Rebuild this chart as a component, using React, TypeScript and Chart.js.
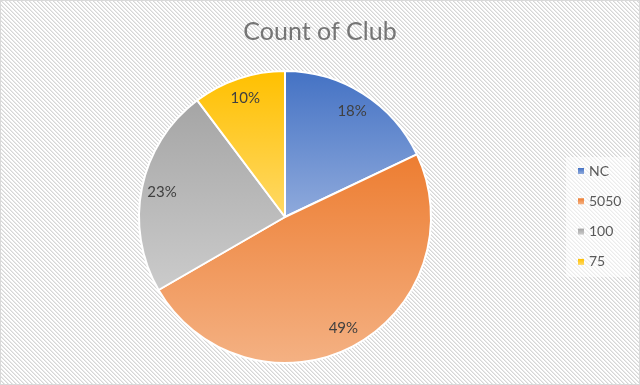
import React, { useEffect, useRef } from "react";
import { Chart, registerables } from "chart.js";

Chart.register(...registerables);

const categories = ["NC", "5050", "100", "75"];
const counts = [7, 19, 9, 4];
const topColors = ["#4472C4", "#ED7D31", "#A5A5A5", "#FFC000"];
const bottomColors = ["#8FAADC", "#F4B183", "#CBCBCB", "#FFD966"];
const titleText = "Count of Club";

const FONT = "Lato, 'Open Sans', sans-serif";

function sliceGradient(ctx: any) {
  const i = ctx.dataIndex;
  const chart = ctx.chart;
  const area = chart.chartArea;
  if (i === undefined) return topColors[0];
  if (!area) return topColors[i];
  const cx = (area.left + area.right) / 2;
  const cy = (area.top + area.bottom) / 2;
  const r = (Math.min(area.width, area.height) - 2) / 2;
  const total = counts.reduce((a, b) => a + b, 0);
  let start = -Math.PI / 2;
  for (let j = 0; j < i; j++) start += (counts[j] / total) * Math.PI * 2;
  const end = start + (counts[i] / total) * Math.PI * 2;
  const ys = [cy, cy + r * Math.sin(start), cy + r * Math.sin(end)];
  [-Math.PI / 2, Math.PI / 2, (3 * Math.PI) / 2, (5 * Math.PI) / 2].forEach((c) => {
    if (c >= start && c <= end) ys.push(cy + r * Math.sin(c));
  });
  const y0 = Math.min(...ys);
  const y1 = Math.max(...ys);
  const g = chart.ctx.createLinearGradient(0, y0, 0, y1);
  g.addColorStop(0, topColors[i]);
  g.addColorStop(1, bottomColors[i]);
  return g;
}

const backgroundPlugin = {
  id: "hatchBg",
  beforeDraw(chart: any) {
    const { ctx, width, height } = chart;
    const pc = document.createElement("canvas");
    pc.width = 4;
    pc.height = 4;
    const p = pc.getContext("2d")!;
    p.fillStyle = "#FFFFFF";
    p.fillRect(0, 0, 4, 4);
    for (let x = 0; x < 4; x++) {
      for (let y = 0; y < 4; y++) {
        const d = (((x - y) % 4) + 4) % 4;
        if (d === 0) {
          p.fillStyle = "#D6D6D6";
          p.fillRect(x, y, 1, 1);
        } else if (d === 1) {
          p.fillStyle = "#EAEAEA";
          p.fillRect(x, y, 1, 1);
        }
      }
    }
    ctx.save();
    ctx.fillStyle = ctx.createPattern(pc, "repeat");
    ctx.fillRect(0, 0, width, height);
    ctx.fillStyle = "rgba(255,255,255,0.55)";
    ctx.fillRect(566, 157, 65, 120);
    ctx.strokeStyle = "#D9D9D9";
    ctx.lineWidth = 1;
    ctx.strokeRect(0.5, 0.5, width - 1, height - 1);
    ctx.restore();
  },
  afterDatasetsDraw(chart: any) {
    const { ctx } = chart;
    const meta = chart.getDatasetMeta(0);
    const total = counts.reduce((a, b) => a + b, 0);
    ctx.save();
    ctx.font = `15px ${FONT}`;
    ctx.fillStyle = "#404040";
    ctx.textAlign = "center";
    ctx.textBaseline = "middle";
    meta.data.forEach((arc: any, i: number) => {
      const { x, y, startAngle, endAngle, outerRadius } = arc.getProps(
        ["x", "y", "startAngle", "endAngle", "outerRadius"],
        true
      );
      const mid = (startAngle + endAngle) / 2;
      const d = outerRadius * 0.86;
      const label = Math.round((counts[i] / total) * 100) + "%";
      ctx.fillText(label, x + d * Math.cos(mid), y + d * Math.sin(mid));
    });
    ctx.font = `25px ${FONT}`;
    ctx.fillStyle = "#757575";
    ctx.textAlign = "center";
    ctx.textBaseline = "middle";
    ctx.fillText(titleText, 320, 32);
    ctx.font = `14px ${FONT}`;
    ctx.textAlign = "left";
    categories.forEach((c, i) => {
      const yy = 171 + i * 30.3;
      const g = ctx.createLinearGradient(0, yy - 3, 0, yy + 3);
      g.addColorStop(0, topColors[i]);
      g.addColorStop(1, bottomColors[i]);
      ctx.fillStyle = g;
      ctx.fillRect(578, yy - 3, 6, 6);
      ctx.fillStyle = "#595959";
      ctx.fillText(c, 589, yy);
    });
    ctx.restore();
  },
};

export default function App() {
  const ref = useRef<HTMLCanvasElement | null>(null);
  useEffect(() => {
    if (!ref.current) return;
    const chart = new Chart(ref.current, {
      type: "pie",
      data: {
        labels: categories,
        datasets: [
          {
            data: counts,
            backgroundColor: sliceGradient,
            borderColor: "#FFFFFF",
            borderWidth: 2,
          },
        ],
      },
      options: {
        responsive: false,
        animation: false,
        events: [],
        layout: { padding: { top: 70, bottom: 21, left: 138, right: 208 } },
        plugins: {
          legend: { display: false },
          title: { display: false },
          tooltip: { enabled: false },
        },
      },
      plugins: [backgroundPlugin],
    });
    return () => chart.destroy();
  }, []);
  return (
    <div style={{ position: "absolute", left: 0, top: 0, width: 640, height: 385 }}>
      <canvas ref={ref} width={640} height={385} />
    </div>
  );
}
